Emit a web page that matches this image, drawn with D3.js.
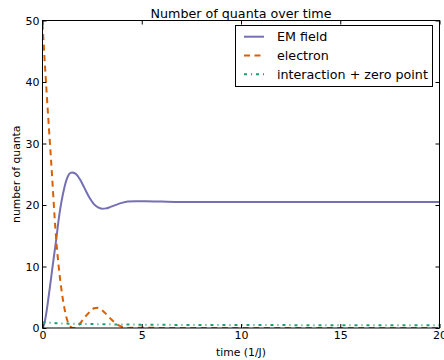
<!DOCTYPE html>
<html>
<head>
<meta charset="utf-8">
<script src="https://cdn.jsdelivr.net/npm/d3@7"></script>
<style>
  html, body { margin: 0; padding: 0; background: #fff; }
  svg { display: block; font-family: "DejaVu Sans", sans-serif; }
</style>
</head>
<body>
<svg id="chart" width="444" height="360"></svg>
<script>
// Sample times (1/J)
const time = [0, 0.1, 0.2, 0.3, 0.4, 0.5, 0.6, 0.7, 0.8, 0.9, 1.0, 1.1, 1.2, 1.3, 1.4, 1.5,
  1.6, 1.7, 1.8, 1.9, 2.0, 2.2, 2.4, 2.6, 2.8, 3.0, 3.2, 3.4, 3.6, 3.8, 4.0, 4.3, 4.7, 5.2,
  6, 7, 8, 10, 12, 14, 16, 18, 20];

// Number of quanta in each subsystem
const emField = [0, 0.8, 2.6, 4.9, 7.3, 9.8, 12.2, 14.6, 17.3, 19.5, 21.3, 22.8, 24.0, 24.8,
  25.2, 25.3, 25.2, 25.0, 24.6, 24.1, 23.5, 22.2, 21.0, 20.1, 19.6, 19.4, 19.45, 19.65, 19.9,
  20.15, 20.35, 20.55, 20.62, 20.6, 20.55, 20.5, 20.5, 20.5, 20.5, 20.5, 20.5, 20.5, 20.5];

const electron = [49.5, 44.0, 38.7, 33.7, 28.8, 23.8, 18.5, 14.0, 10.5, 7.6, 5.2, 3.3, 1.8,
  0.8, 0.25, 0.03, 0, 0.1, 0.35, 0.75, 1.2, 2.0, 2.7, 3.2, 3.3, 2.9, 2.3, 1.6, 1.0, 0.5, 0.2,
  0.02, 0.05, 0.05, 0, 0, 0, 0, 0, 0, 0, 0, 0];

const interaction = [0.9, 0.9, 0.88, 0.86, 0.84, 0.82, 0.8, 0.78, 0.76, 0.75, 0.74, 0.73,
  0.72, 0.71, 0.7, 0.7, 0.69, 0.68, 0.68, 0.67, 0.66, 0.65, 0.64, 0.63, 0.62, 0.61, 0.6,
  0.6, 0.59, 0.58, 0.57, 0.56, 0.55, 0.54, 0.52, 0.5, 0.49, 0.48, 0.47, 0.46, 0.45, 0.45, 0.45];

const seriesNames = ["EM field", "electron", "interaction + zero point"];
const seriesColors = ["#7570b3", "#d95f02", "#1b9e77"];
const seriesDash = [null, "6,4.5", "3,4,1,4"];
const xTicks = [0, 5, 10, 15, 20];
const yTicks = [0, 10, 20, 30, 40, 50];

const svg = d3.select("#chart");
const plotL = 42.5, plotR = 439.5, plotT = 20.5, plotB = 328;

const x = d3.scaleLinear().domain([0, 20]).range([plotL, plotR]);
const y = d3.scaleLinear().domain([0, 50]).range([plotB, plotT]);

svg.append("defs").append("clipPath").attr("id", "plotclip")
  .append("rect").attr("x", plotL).attr("y", plotT)
  .attr("width", plotR - plotL).attr("height", plotB - plotT);

// Curves
const seriesValues = [emField, electron, interaction];
const line = d3.line().x(d => x(d[0])).y(d => y(d[1])).curve(d3.curveMonotoneX);
const plot = svg.append("g").attr("clip-path", "url(#plotclip)");
seriesValues.forEach((vals, i) => {
  plot.append("path")
    .datum(time.map((t, k) => [t, vals[k]]))
    .attr("d", line)
    .attr("fill", "none")
    .attr("stroke", seriesColors[i])
    .attr("stroke-width", 2)
    .attr("stroke-dasharray", seriesDash[i]);
});

// Axes with inward ticks on all four sides
function styleAxis(g) {
  g.selectAll(".domain").remove();
  g.selectAll(".tick line").attr("stroke", "#000").attr("stroke-width", 1);
  g.selectAll(".tick text").attr("fill", "#000").attr("font-size", "11px")
    .attr("font-family", "DejaVu Sans, sans-serif");
}
svg.append("g").attr("transform", `translate(0,${plotB})`)
  .call(d3.axisBottom(x).tickValues(xTicks).tickFormat(d3.format("d"))
    .tickSizeInner(-4).tickSizeOuter(0).tickPadding(3))
  .call(styleAxis);
svg.append("g").attr("transform", `translate(0,${plotT})`)
  .call(d3.axisTop(x).tickValues(xTicks).tickFormat("")
    .tickSizeInner(-4).tickSizeOuter(0))
  .call(styleAxis);
svg.append("g").attr("transform", `translate(${plotL},0)`)
  .call(d3.axisLeft(y).tickValues(yTicks).tickFormat(d3.format("d"))
    .tickSizeInner(-4).tickSizeOuter(0).tickPadding(3))
  .call(styleAxis);
svg.append("g").attr("transform", `translate(${plotR},0)`)
  .call(d3.axisRight(y).tickValues(yTicks).tickFormat("")
    .tickSizeInner(-4).tickSizeOuter(0))
  .call(styleAxis);

// Frame
svg.append("rect").attr("x", plotL).attr("y", plotT)
  .attr("width", plotR - plotL).attr("height", plotB - plotT)
  .attr("fill", "none").attr("stroke", "#000").attr("stroke-width", 1);

// Titles
svg.append("text").attr("x", (plotL + plotR) / 2).attr("y", 13)
  .attr("text-anchor", "middle").attr("dominant-baseline", "central")
  .attr("font-size", "12.7px").text("Number of quanta over time");
svg.append("text").attr("x", (plotL + plotR) / 2).attr("y", 352)
  .attr("text-anchor", "middle").attr("dominant-baseline", "central")
  .attr("font-size", "10.8px").text("time (1/J)");
svg.append("text")
  .attr("transform", `translate(16,${(plotT + plotB) / 2}) rotate(-90)`)
  .attr("text-anchor", "middle").attr("dominant-baseline", "central")
  .attr("font-size", "10.8px").text("number of quanta");

// Legend
const lg = svg.append("g");
lg.append("rect").attr("x", 235.5).attr("y", 25.5).attr("width", 197).attr("height", 61)
  .attr("fill", "#fff").attr("stroke", "#000").attr("stroke-width", 1);
const rowY = [36.7, 55.5, 74.3];
seriesNames.forEach((name, i) => {
  lg.append("line").attr("x1", 244).attr("x2", 264)
    .attr("y1", rowY[i]).attr("y2", rowY[i])
    .attr("stroke", seriesColors[i]).attr("stroke-width", 2)
    .attr("stroke-dasharray", seriesDash[i]);
  lg.append("text").attr("x", 277).attr("y", rowY[i])
    .attr("dominant-baseline", "central").attr("font-size", "12.7px").text(name);
});
</script>
</body>
</html>
